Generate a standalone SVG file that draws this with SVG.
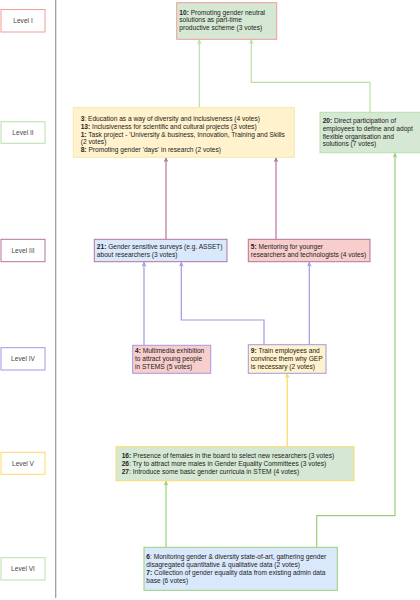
<svg xmlns="http://www.w3.org/2000/svg" width="420" height="600" viewBox="0 0 420 600">
<style>
text{font-family:"Liberation Sans",Arial,sans-serif;font-size:6.6px;fill:#222}
.lv{font-size:6.6px;fill:#444;text-anchor:middle}
.b{font-weight:bold}
.ln{fill:none;stroke-width:1.2}
</style>
<defs>
<marker id="aG" viewBox="0 0 10 10" refX="9" refY="5" markerWidth="5" markerHeight="5" orient="auto" markerUnits="userSpaceOnUse"><path d="M0,0L10,5L0,10L3,5z" fill="#b9e0a5"/></marker>
<marker id="aG2" viewBox="0 0 10 10" refX="9" refY="5" markerWidth="5" markerHeight="5" orient="auto" markerUnits="userSpaceOnUse"><path d="M0,0L10,5L0,10L3,5z" fill="#97d077"/></marker>
<marker id="aP" viewBox="0 0 10 10" refX="9" refY="5" markerWidth="5" markerHeight="5" orient="auto" markerUnits="userSpaceOnUse"><path d="M0,0L10,5L0,10L3,5z" fill="#b5739d"/></marker>
<marker id="aL" viewBox="0 0 10 10" refX="9" refY="5" markerWidth="5" markerHeight="5" orient="auto" markerUnits="userSpaceOnUse"><path d="M0,0L10,5L0,10L3,5z" fill="#a09ae6"/></marker>
<marker id="aY" viewBox="0 0 10 10" refX="9" refY="5" markerWidth="5" markerHeight="5" orient="auto" markerUnits="userSpaceOnUse"><path d="M0,0L10,5L0,10L3,5z" fill="#ffd966"/></marker>
</defs>
<rect width="420" height="600" fill="#fff"/>
<line x1="55.7" y1="0" x2="55.7" y2="598" stroke="#9a9a9a" stroke-width="1.2"/>

<g id="levels">
<g id="level1"><rect x="1" y="9.5" width="44" height="22.5" fill="#fff" stroke="#f19c99"/><text class="lv" x="23" y="23">Level I</text></g>
<g id="level2"><rect x="1" y="121.7" width="44" height="21.6" fill="#fff" stroke="#b9e0a5"/><text class="lv" x="23" y="134.7">Level II</text></g>
<g id="level3"><rect x="1" y="239.3" width="44" height="22.4" fill="#fff" stroke="#b5739d"/><text class="lv" x="23" y="252.7">Level III</text></g>
<g id="level4"><rect x="1" y="347.7" width="44" height="22.3" fill="#fff" stroke="#a09ae6"/><text class="lv" x="23" y="361.2">Level IV</text></g>
<g id="level5"><rect x="1" y="452.3" width="44" height="22" fill="#fff" stroke="#ffd966"/><text class="lv" x="23" y="465.7">Level V</text></g>
<g id="level6"><rect x="1" y="557.7" width="44" height="22.3" fill="#fff" stroke="#b9e0a5"/><text class="lv" x="23" y="571.2">Level VI</text></g>
</g>

<g id="connectors">
<path class="ln" d="M199.3,107.7V39.8" stroke="#b9e0a5" marker-end="url(#aG)"/>
<path class="ln" d="M370,112.3V82.3H251.3V39.8" stroke="#b9e0a5" marker-end="url(#aG)"/>
<path class="ln" d="M166,239.3V157.8" stroke="#b5739d" marker-end="url(#aP)"/>
<path class="ln" d="M276,239.3V157.8" stroke="#b5739d" marker-end="url(#aP)"/>
<path class="ln" d="M144,345.3V262.2" stroke="#a09ae6" marker-end="url(#aL)"/>
<path class="ln" d="M264,344.7V320H181.3V262.2" stroke="#a09ae6" marker-end="url(#aL)"/>
<path class="ln" d="M309.3,344.7V262.2" stroke="#a09ae6" marker-end="url(#aL)"/>
<path class="ln" d="M287.3,446.7V373.8" stroke="#ffd966" marker-end="url(#aY)"/>
<path class="ln" d="M166,547.3V481.2" stroke="#97d077" marker-end="url(#aG2)"/>
<path class="ln" d="M316.7,547.3V515.7H395V153.2" stroke="#97d077" marker-end="url(#aG2)"/>
</g>

<g id="n10">
<rect x="176.7" y="2.7" width="100" height="36.6" fill="#d5e8d4" stroke="#f19c99"/>
<text x="179.3" y="14.7"><tspan class="b">10:</tspan> Promoting gender neutral</text>
<text x="179.3" y="22.2">solutions as part-time</text>
<text x="179.3" y="30">productive scheme (3 votes)</text>
</g>

<g id="n3">
<rect x="73.3" y="107.7" width="221" height="49.6" fill="#fff2cc" stroke="#f2eaa8"/>
<text x="80.7" y="121.2"><tspan class="b">3</tspan>: Education as a way of diversity and inclusiveness (4 votes)</text>
<text x="80.7" y="129"><tspan class="b">13:</tspan> Inclusiveness for scientific and cultural projects (3 votes)</text>
<text x="80.7" y="136.8"><tspan class="b">1:</tspan> Task project - 'University &amp; business, Innovation, Training and Skills</text>
<text x="80.7" y="144.2">(2 votes)</text>
<text x="80.7" y="152"><tspan class="b">8:</tspan> Promoting gender 'days' in research (2 votes)</text>
</g>

<g id="n20">
<rect x="320" y="112.3" width="101" height="40.4" fill="#d5e8d4" stroke="#b9e0a5"/>
<text x="322.7" y="123.2"><tspan class="b">20:</tspan> Direct participation of</text>
<text x="322.7" y="131">employees to define and adopt</text>
<text x="322.7" y="138.7">flexible organisation and</text>
<text x="322.7" y="146.4">solutions (7 votes)</text>
</g>

<g id="n21">
<rect x="94.3" y="239.3" width="132.7" height="22.4" fill="#dae8fc" stroke="#b5739d"/>
<text x="96.8" y="249"><tspan class="b">21:</tspan> Gender sensitive surveys (e.g. ASSET)</text>
<text x="96.8" y="256.7">about researchers (3 votes)</text>
</g>

<g id="n5">
<rect x="248.3" y="239.3" width="121.7" height="22.4" fill="#f8cecc" stroke="#b5739d"/>
<text x="250.8" y="249"><tspan class="b">5:</tspan> Mentoring for younger</text>
<text x="250.8" y="256.7">researchers and technologists (4 votes)</text>
</g>

<g id="n4">
<rect x="132.7" y="345.3" width="78" height="28" fill="#f8cecc" stroke="#a09ae6"/>
<text x="135" y="353.4"><tspan class="b">4:</tspan> Multimedia exhibition</text>
<text x="135" y="361.1">to attract young people</text>
<text x="135" y="368.8">in STEMS (5 votes)</text>
</g>

<g id="n9">
<rect x="248.3" y="344.7" width="77.7" height="28.6" fill="#fff2cc" stroke="#a09ae6"/>
<text x="250.8" y="353.2"><tspan class="b">9:</tspan> Train employees and</text>
<text x="250.8" y="360.9">convince them why GEP</text>
<text x="250.8" y="368.6">is necessary (2 votes)</text>
</g>

<g id="n16">
<rect x="116" y="446.7" width="238" height="34" fill="#d5e8d4" stroke="#ffd966"/>
<text x="121.7" y="457.8"><tspan class="b">16:</tspan> Presence of females in the board to select new researchers (3 votes)</text>
<text x="121.7" y="465.7"><tspan class="b">26</tspan>: Try to attract more males in Gender Equality Committees (3 votes)</text>
<text x="121.7" y="473.6"><tspan class="b">27</tspan>: Introduce some basic gender curricula in STEM (4 votes)</text>
</g>

<g id="n6">
<rect x="144" y="547.3" width="193.3" height="43" fill="#dae8fc" stroke="#97d077"/>
<text x="146.3" y="559.4"><tspan class="b">6</tspan>: Monitoring gender &amp; diversity state-of-art, gathering gender</text>
<text x="146.3" y="567.2">disagregated quantitative &amp; qualitative data (2 votes)</text>
<text x="146.3" y="575"><tspan class="b">7:</tspan> Collection of gender equality data from existing admin data</text>
<text x="146.3" y="582.7">base (6 votes)</text>
</g>
</svg>
